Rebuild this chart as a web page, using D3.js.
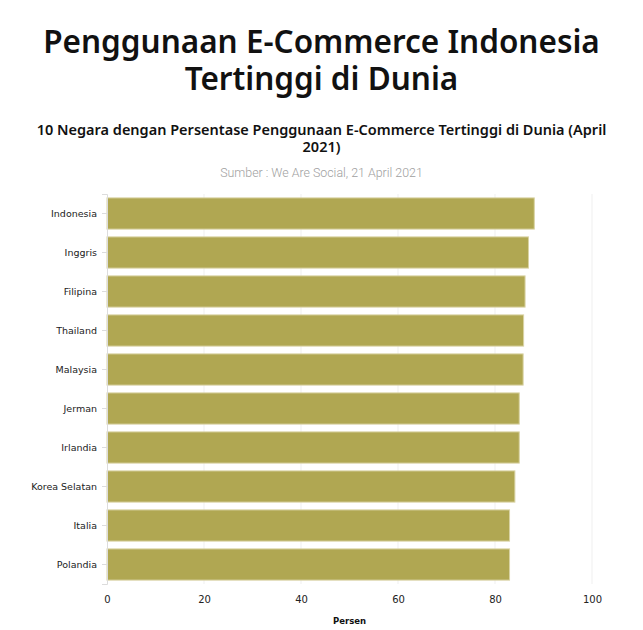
<!DOCTYPE html>
<html>
<head>
<meta charset="utf-8">
<script src="https://cdn.jsdelivr.net/npm/d3@7"></script>
<style>
  body { margin: 0; background: #fff; }
  .title { font-family: "Noto Sans", sans-serif; font-weight: 600; fill: #111; }
  .sub { font-family: "Noto Sans", sans-serif; font-weight: 600; fill: #111; }
  .src { font-family: Roboto, sans-serif; font-weight: 300; fill: #a0a0a0; }
  .tick text { font-family: "DejaVu Sans", Verdana, sans-serif; fill: #222; }
</style>
</head>
<body>
<div id="root"></div>
<script>
// data (persen pengguna e-commerce, April 2021)
const countries = ['Indonesia','Inggris','Filipina','Thailand','Malaysia','Jerman','Irlandia','Korea Selatan','Italia','Polandia'];
const values = [88.1, 86.9, 86.2, 85.9, 85.8, 85.0, 85.0, 84.1, 83.0, 83.0];
const xTicks = [0, 20, 40, 60, 80, 100];
const titleLines = ['Penggunaan E-Commerce Indonesia', 'Tertinggi di Dunia'];
const subLines = ['10 Negara dengan Persentase Penggunaan E-Commerce Tertinggi di Dunia (April', '2021)'];
const source = 'Sumber : We Are Social, 21 April 2021';

const W = 643, H = 630;
const m = { top: 194, right: 51, bottom: 46, left: 107 };

const svg = d3.select('#root').append('svg').attr('width', W).attr('height', H);

// judul
svg.selectAll('text.title').data(titleLines).join('text')
  .attr('class', 'title')
  .attr('x', W/2).attr('y', (d, i) => 53 + i*37)
  .attr('text-anchor', 'middle')
  .style('font-size', '31.5px')
  .text(d => d);

svg.selectAll('text.sub').data(subLines).join('text')
  .attr('class', 'sub')
  .attr('x', W/2).attr('y', (d, i) => 135 + i*17)
  .attr('text-anchor', 'middle')
  .style('font-size', '14.5px')
  .text(d => d);

svg.append('text').attr('class', 'src')
  .attr('x', W/2).attr('y', 177)
  .attr('text-anchor', 'middle')
  .style('font-size', '12.4px')
  .text(source);

const x = d3.scaleLinear().domain([0, 100]).range([m.left, W - m.right]);
const y = d3.scaleBand().domain(countries).range([m.top, H - m.bottom])
  .paddingInner(0.2).paddingOuter(0.1);

// grid
svg.append('g')
  .selectAll('line').data(xTicks.slice(1)).join('line')
  .attr('x1', d => x(d)).attr('x2', d => x(d))
  .attr('y1', m.top).attr('y2', H - m.bottom)
  .attr('stroke', '#efefef').attr('stroke-width', 1);

// bars
svg.append('g')
  .selectAll('rect').data(values).join('rect')
  .attr('x', x(0))
  .attr('y', (d, i) => y(countries[i]))
  .attr('width', d => x(d) - x(0))
  .attr('height', y.bandwidth())
  .attr('fill', '#b0a752')
  .attr('stroke', '#d9d3a4').attr('stroke-width', 1);

// y axis
const yAxis = svg.append('g').attr('transform', `translate(${m.left},0)`)
  .call(d3.axisLeft(y).tickSize(5).tickPadding(5));
yAxis.select('.domain').attr('stroke', '#dcdcdc');
yAxis.selectAll('.tick line').attr('stroke', '#dcdcdc');
yAxis.selectAll('.tick text').style('font-size', '9.5px');

// x axis
const xAxis = svg.append('g').attr('transform', `translate(0,${H - m.bottom})`)
  .call(d3.axisBottom(x).tickValues(xTicks).tickSize(0).tickPadding(12));
xAxis.select('.domain').remove();
xAxis.selectAll('.tick text').style('font-size', '10px');

svg.append('text')
  .attr('x', (x(0) + x(100)) / 2).attr('y', 624)
  .attr('text-anchor', 'middle')
  .style('font-family', '"DejaVu Sans", Verdana, sans-serif')
  .style('font-weight', 'bold').style('font-size', '8.5px').style('fill', '#111')
  .text('Persen');
</script>
</body>
</html>
